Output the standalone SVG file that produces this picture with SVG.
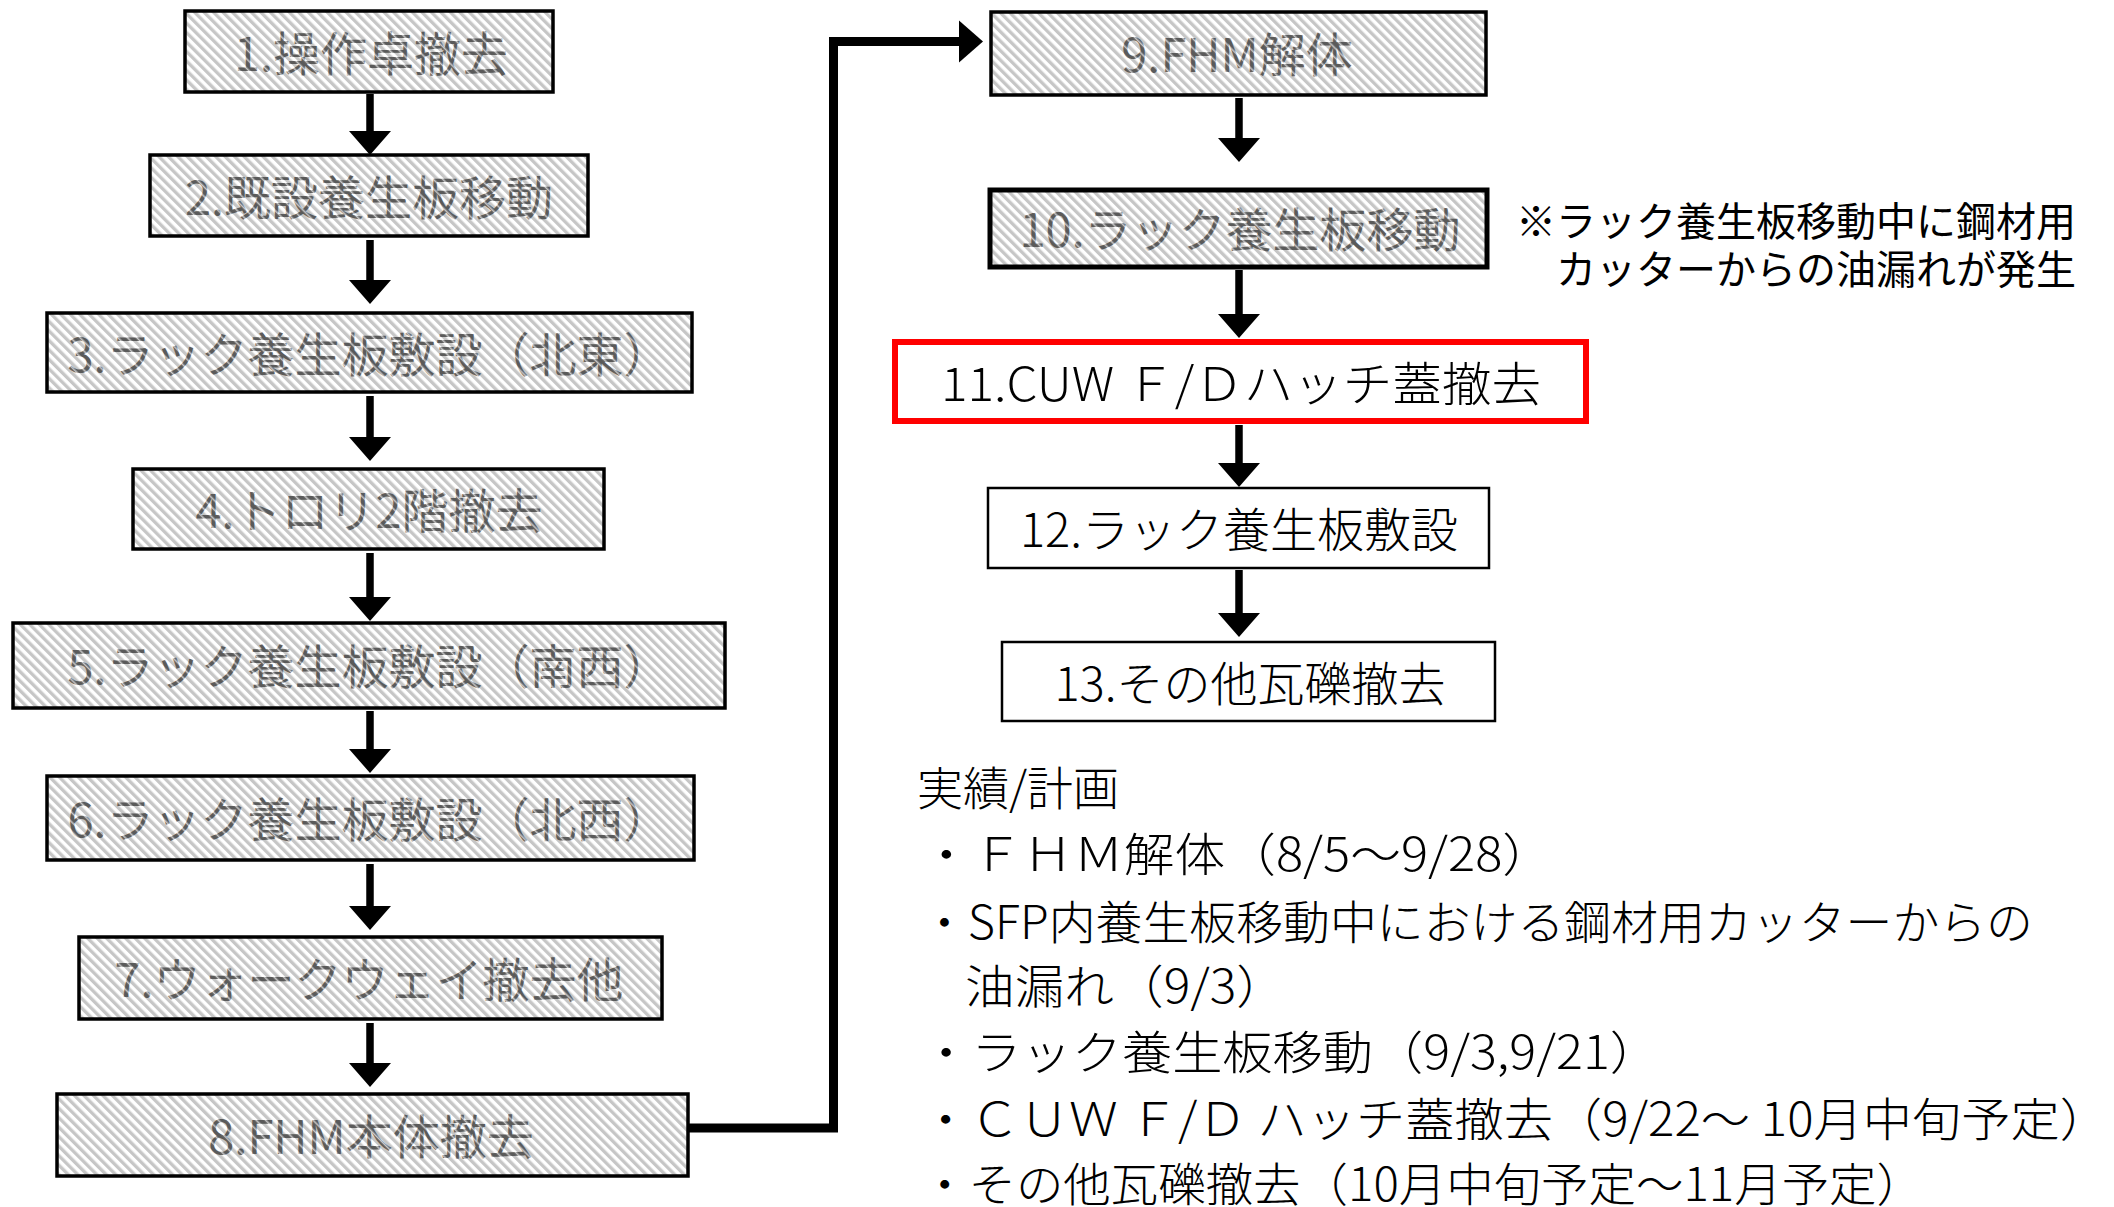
<svg xmlns="http://www.w3.org/2000/svg" width="2114" height="1207" viewBox="0 0 2114 1207">
<style>
  text { font-family: "Noto Sans CJK JP", "Noto Sans", sans-serif; font-weight: 300; }
  .hbox { fill: url(#hatch); stroke: #000; stroke-width: 3.5; }
  .wbox { fill: #fff; stroke: #000; stroke-width: 2.5; }
  .rbox { fill: #fff; stroke: #ff0000; stroke-width: 6; }
  .ht { font-size: 47px; fill: url(#thatch); text-anchor: middle; dominant-baseline: central; font-weight: 400; }
  .nt { font-size: 47px; fill: #000; text-anchor: middle; dominant-baseline: central; }
  .note { font-size: 40px; fill: #000; text-anchor: end; dominant-baseline: central; font-weight: 400; }
  .lt { font-size: 46px; fill: #000; dominant-baseline: central; }
  .arrow { stroke: #000; stroke-width: 7.5; fill: none; marker-end: url(#head); }
  .conn { stroke: #000; stroke-width: 9; fill: none; stroke-linejoin: miter; marker-end: url(#head); }
</style>
<defs>
  <pattern id="hatch" patternUnits="userSpaceOnUse" width="6.7" height="20" patternTransform="rotate(-45)">
    <rect width="6.7" height="20" fill="#ffffff"/>
    <rect width="3.3" height="20" fill="#c6c6c6"/>
  </pattern>
  <pattern id="thatch" patternUnits="userSpaceOnUse" width="6.7" height="20" patternTransform="rotate(-45)">
    <rect width="6.7" height="20" fill="#5a5a5a"/>
    <rect x="4.6" width="1.6" height="20" fill="#c8c8c8"/>
  </pattern>
  <marker id="head" markerUnits="userSpaceOnUse" markerWidth="30" markerHeight="46" refX="0" refY="0" orient="auto" overflow="visible">
    <path d="M0,-21 L24,0 L0,21 Z" fill="#000"/>
  </marker>
</defs>

<g id="connectors">
  <line class="arrow" x1="370" y1="94" x2="370" y2="131"/>
  <line class="arrow" x1="370" y1="240" x2="370" y2="280"/>
  <line class="arrow" x1="370" y1="396" x2="370" y2="437"/>
  <line class="arrow" x1="370" y1="553" x2="370" y2="597"/>
  <line class="arrow" x1="370" y1="711" x2="370" y2="749"/>
  <line class="arrow" x1="370" y1="864" x2="370" y2="906"/>
  <line class="arrow" x1="370" y1="1023" x2="370" y2="1063"/>
  <path class="conn" d="M688,1128 H833.5 V41.5 H959"/>
  <line class="arrow" x1="1239" y1="98" x2="1239" y2="138"/>
  <line class="arrow" x1="1239" y1="270" x2="1239" y2="314"/>
  <line class="arrow" x1="1239" y1="425" x2="1239" y2="463"/>
  <line class="arrow" x1="1239" y1="570" x2="1239" y2="613"/>
</g>

<g id="n1"><rect class="hbox" x="185" y="11" width="368" height="81"/><text class="ht" x="371" y="50">1.操作卓撤去</text></g>
<g id="n2"><rect class="hbox" x="150" y="155" width="438" height="81"/><text class="ht" x="369" y="194">2.既設養生板移動</text></g>
<g id="n3"><rect class="hbox" x="47" y="313" width="645" height="79"/><text class="ht" x="369" y="351">3.ラック養生板敷設（北東）</text></g>
<g id="n4"><rect class="hbox" x="133" y="469" width="471" height="80"/><text class="ht" x="369" y="507">4.トロリ2階撤去</text></g>
<g id="n5"><rect class="hbox" x="13" y="623" width="712" height="85"/><text class="ht" x="369" y="663">5.ラック養生板敷設（南西）</text></g>
<g id="n6"><rect class="hbox" x="47" y="776" width="647" height="84"/><text class="ht" x="369" y="816">6.ラック養生板敷設（北西）</text></g>
<g id="n7"><rect class="hbox" x="79" y="937" width="583" height="82"/><text class="ht" x="369" y="976">7.ウォークウェイ撤去他</text></g>
<g id="n8"><rect class="hbox" x="57" y="1094" width="631" height="82"/><text class="ht" x="371" y="1133">8.FHM本体撤去</text></g>
<g id="n9"><rect class="hbox" x="991" y="12" width="495" height="83"/><text class="ht" x="1237" y="51">9.FHM解体</text></g>
<g id="n10"><rect class="hbox" x="990" y="190" width="497" height="77" style="stroke-width:5"/><text class="ht" x="1240" y="226">10.ラック養生板移動</text></g>
<g id="n11"><rect class="rbox" x="895" y="342" width="691" height="79"/><text class="nt" x="1241" y="380" textLength="600" lengthAdjust="spacingAndGlyphs">11.CUW Ｆ/Ｄハッチ蓋撤去</text></g>
<g id="n12"><rect class="wbox" x="988" y="488" width="501" height="80"/><text class="nt" x="1239" y="526">12.ラック養生板敷設</text></g>
<g id="n13"><rect class="wbox" x="1002" y="642" width="493" height="79"/><text class="nt" x="1250" y="680">13.その他瓦礫撤去</text></g>

<g id="note">
  <text class="note" x="2076" y="219">※ラック養生板移動中に鋼材用</text>
  <text class="note" x="2076" y="267">カッターからの油漏れが発生</text>
</g>

<g id="schedule">
  <text class="lt" x="917" y="785">実績/計画</text>
  <text class="lt" x="921" y="851" textLength="632" lengthAdjust="spacingAndGlyphs">・ＦＨＭ解体（8/5～9/28）</text>
  <text class="lt" x="921" y="919" textLength="1112" lengthAdjust="spacingAndGlyphs">・SFP内養生板移動中における鋼材用カッターからの</text>
  <text class="lt" x="965" y="983" textLength="321" lengthAdjust="spacingAndGlyphs">油漏れ（9/3）</text>
  <text class="lt" x="921" y="1049" textLength="739" lengthAdjust="spacingAndGlyphs">・ラック養生板移動（9/3,9/21）</text>
  <text class="lt" x="921" y="1116" textLength="1188" lengthAdjust="spacingAndGlyphs">・ＣＵＷ Ｆ/Ｄ ハッチ蓋撤去（9/22～ 10月中旬予定）</text>
  <text class="lt" x="921" y="1181" textLength="1003" lengthAdjust="spacingAndGlyphs">・その他瓦礫撤去（10月中旬予定～11月予定）</text>
</g>
</svg>
